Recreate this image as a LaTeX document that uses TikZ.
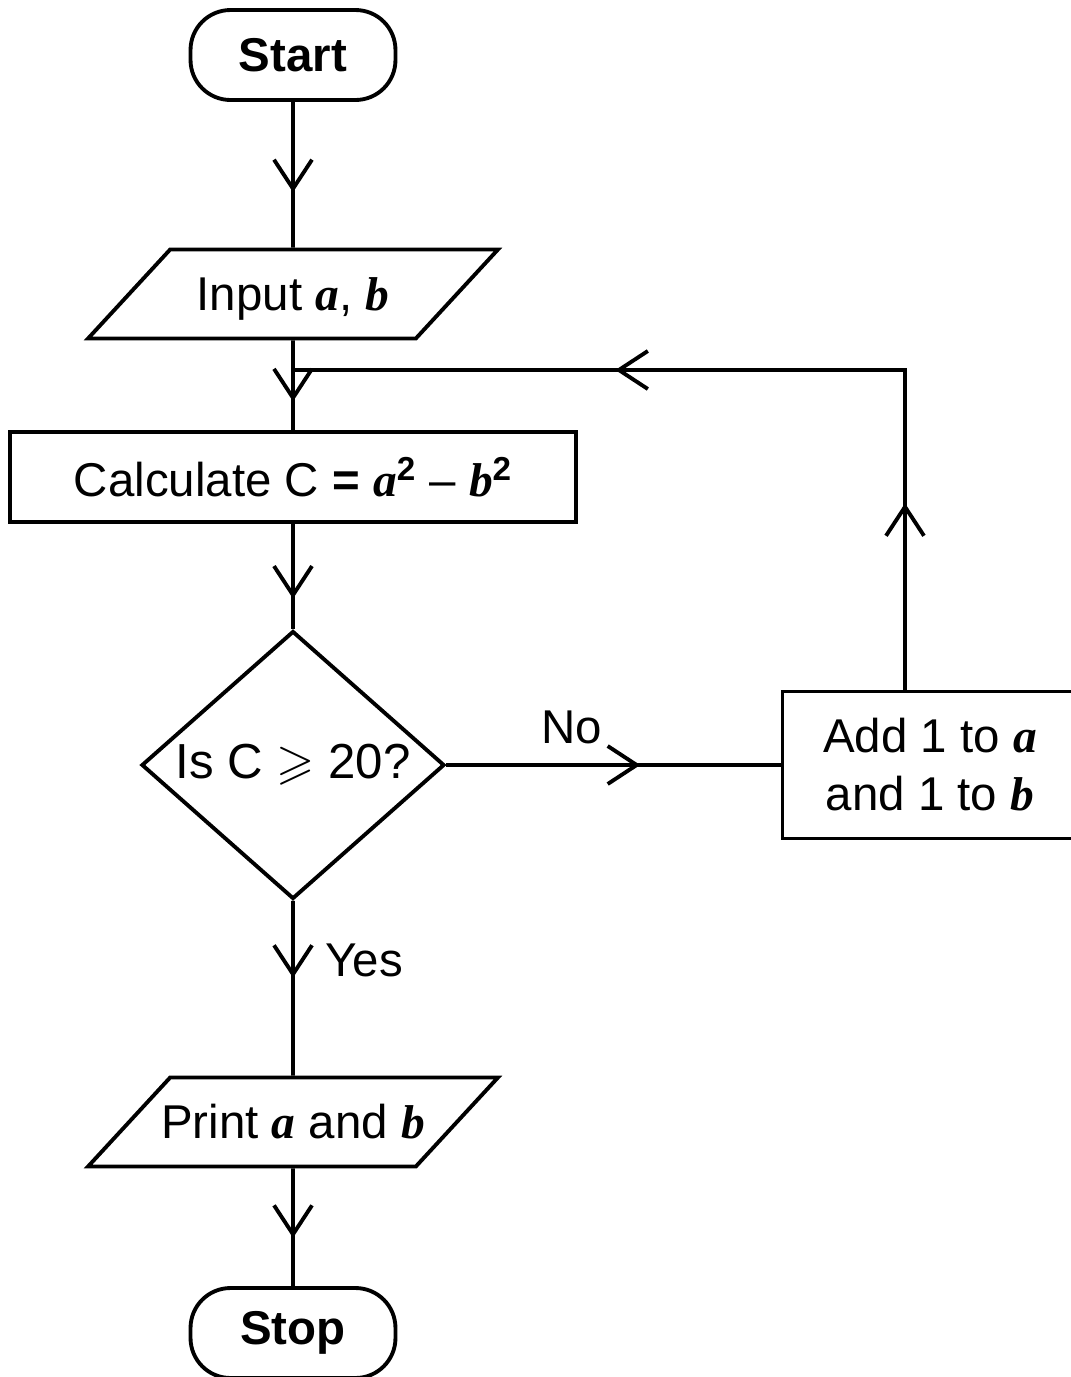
\documentclass[tikz,border=0pt]{standalone}
\usepackage{fontspec, amssymb}
\setmainfont{Liberation Sans}
\newfontfamily\serifvar{Liberation Serif}
\newcommand{\itvar}[1]{{\serifvar\bfseries\itshape #1}}
\usetikzlibrary{shapes.geometric, decorations.markings, arrows.meta}

\begin{document}
\begin{tikzpicture}[x=0.02cm, y=-0.02cm, line width=2.2pt,
    every node/.style={font=\fontsize{27}{33}\selectfont},
    box/.style={draw, rectangle, minimum height=1.8cm, inner sep=0pt},
    term/.style={box, rounded corners=0.8cm, minimum width=4.1cm, font=\fontsize{27}{33}\selectfont\bfseries},
    io/.style={draw, trapezium, trapezium left angle=47.3, trapezium right angle=132.7,
        trapezium stretches body=true, minimum width=8.2cm,
        text height=0.75cm, text depth=0.1cm, inner xsep=-6pt, inner ysep=0.465cm},
    test/.style={draw, diamond, minimum width=6.06cm, minimum height=5.36cm, inner sep=0pt},
    midtip/.style={postaction={decorate, decoration={markings,
        mark=at position #1 with {\arrow[line cap=round, line join=round]{Straight Barb[length=5.8mm, width=7.6mm]}}}}}]
    
    \useasboundingbox (0,0) rectangle (1071,1377);
    
    % boxes
    \node[term] (start) at (293,55) {Start};
    \node[io] (in) at (293,294) {Input \itvar{a}, \itvar{b}};
    \node[box, minimum width=11.32cm] (calc) at (293,477)
        {Calculate C \textbf{=} \itvar{a}\textsuperscript{\textbf{2}} -- \itvar{b}\textsuperscript{\textbf{2}}};
    \node[test] (test) at (293,765) {\makebox[0pt]{\fontsize{28}{33}\selectfont Is C $\geqslant$ 20?}};
    \node[box, minimum width=5.9cm, minimum height=2.94cm, align=center] (add) at (930,765)
        {Add 1 to \itvar{a}\\and 1 to \itvar{b}};
    \node[io] (print) at (293,1122) {Print \itvar{a} and \itvar{b}};
    \node[term] (stop) at (293,1333) {Stop};
    
    % labels
    \node (no) at (572,727) {No};
    \node (yes) at (364,960) {Yes};
    
    % loop points
    \coordinate (join) at (293,370);
    \coordinate (corner) at (905,370);
    
    % connectors
    \draw[midtip=0.62] (start) -- (in);
    \draw[midtip=0.68] (in) -- (calc);
    \draw[midtip=0.71] (calc) -- (test);
    \draw[midtip=0.58] (test) -- (add);
    \draw[midtip=0.44] (test) -- (print);
    \draw[midtip=0.59] (print) -- (stop);
    \draw[midtip=0.2, midtip=0.654] (corner |- add.north) -- (corner) -- (join);
    
\end{tikzpicture}
\end{document}
